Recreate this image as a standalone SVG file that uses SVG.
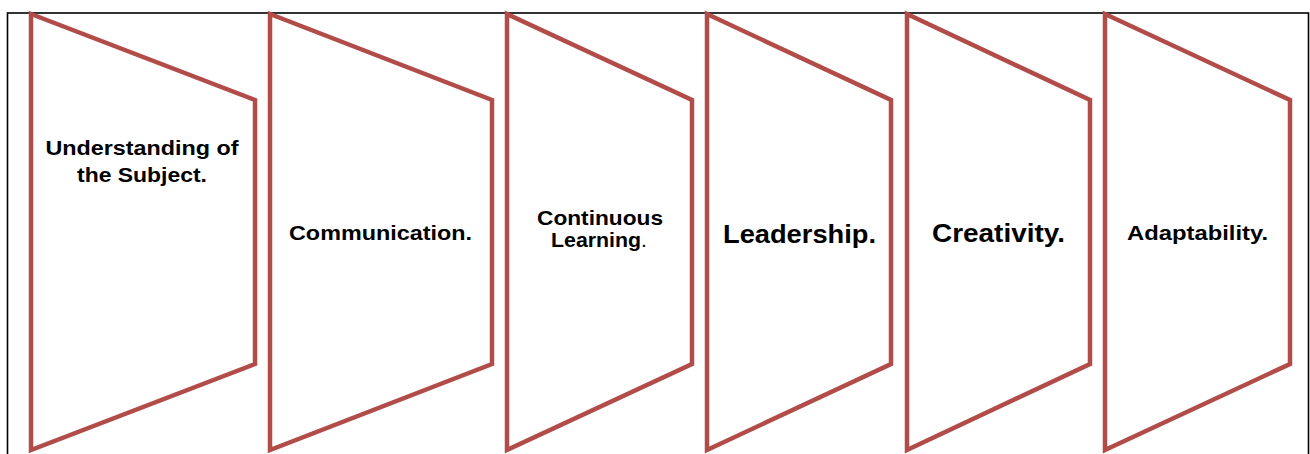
<svg xmlns="http://www.w3.org/2000/svg" width="1310" height="454" viewBox="0 0 1310 454">
<style>
.shape{fill:#ffffff;stroke:#b24c49;stroke-width:4.5;stroke-linejoin:miter}
.lbl{font-family:"Liberation Sans",Arial,sans-serif;font-weight:bold;fill:#000;text-anchor:middle}
.frame{fill:none;stroke:#000;stroke-width:1.6}
</style>
<rect width="1310" height="454" fill="#ffffff"/>
<rect class="frame" x="7.5" y="13" width="1301" height="460"/>
<g id="node1">
<polygon class="shape" points="31,14 255,100 255,364 31,450"/>
<text class="lbl" x="142" y="155" font-size="20" textLength="193" lengthAdjust="spacingAndGlyphs">Understanding of</text>
<text class="lbl" x="142" y="182" font-size="20" textLength="130" lengthAdjust="spacingAndGlyphs">the Subject.</text>
</g>
<g id="node2">
<polygon class="shape" points="270,14 492,100 492,364 270,450"/>
<text class="lbl" x="380.5" y="240" font-size="20" textLength="183" lengthAdjust="spacingAndGlyphs">Communication.</text>
</g>
<g id="node3">
<polygon class="shape" points="507,14 692,100 692,364 507,450"/>
<text class="lbl" x="600" y="225" font-size="21" textLength="126" lengthAdjust="spacingAndGlyphs">Continuous</text>
<text class="lbl" x="599" y="247" font-size="21" textLength="96" lengthAdjust="spacingAndGlyphs">Learning<tspan font-weight="normal">.</tspan></text>
</g>
<g id="node4">
<polygon class="shape" points="707,14 891,100 891,364 707,450"/>
<text class="lbl" x="799.5" y="243" font-size="26" textLength="153" lengthAdjust="spacingAndGlyphs">Leadership.</text>
</g>
<g id="node5">
<polygon class="shape" points="907,14 1090,100 1090,364 907,450"/>
<text class="lbl" x="998.5" y="242" font-size="26.5" textLength="133" lengthAdjust="spacingAndGlyphs">Creativity.</text>
</g>
<g id="node6">
<polygon class="shape" points="1105,14 1290,100 1290,364 1105,450"/>
<text class="lbl" x="1197.5" y="240" font-size="20.5" textLength="141" lengthAdjust="spacingAndGlyphs">Adaptability.</text>
</g>
<g id="connectors"></g>
</svg>
